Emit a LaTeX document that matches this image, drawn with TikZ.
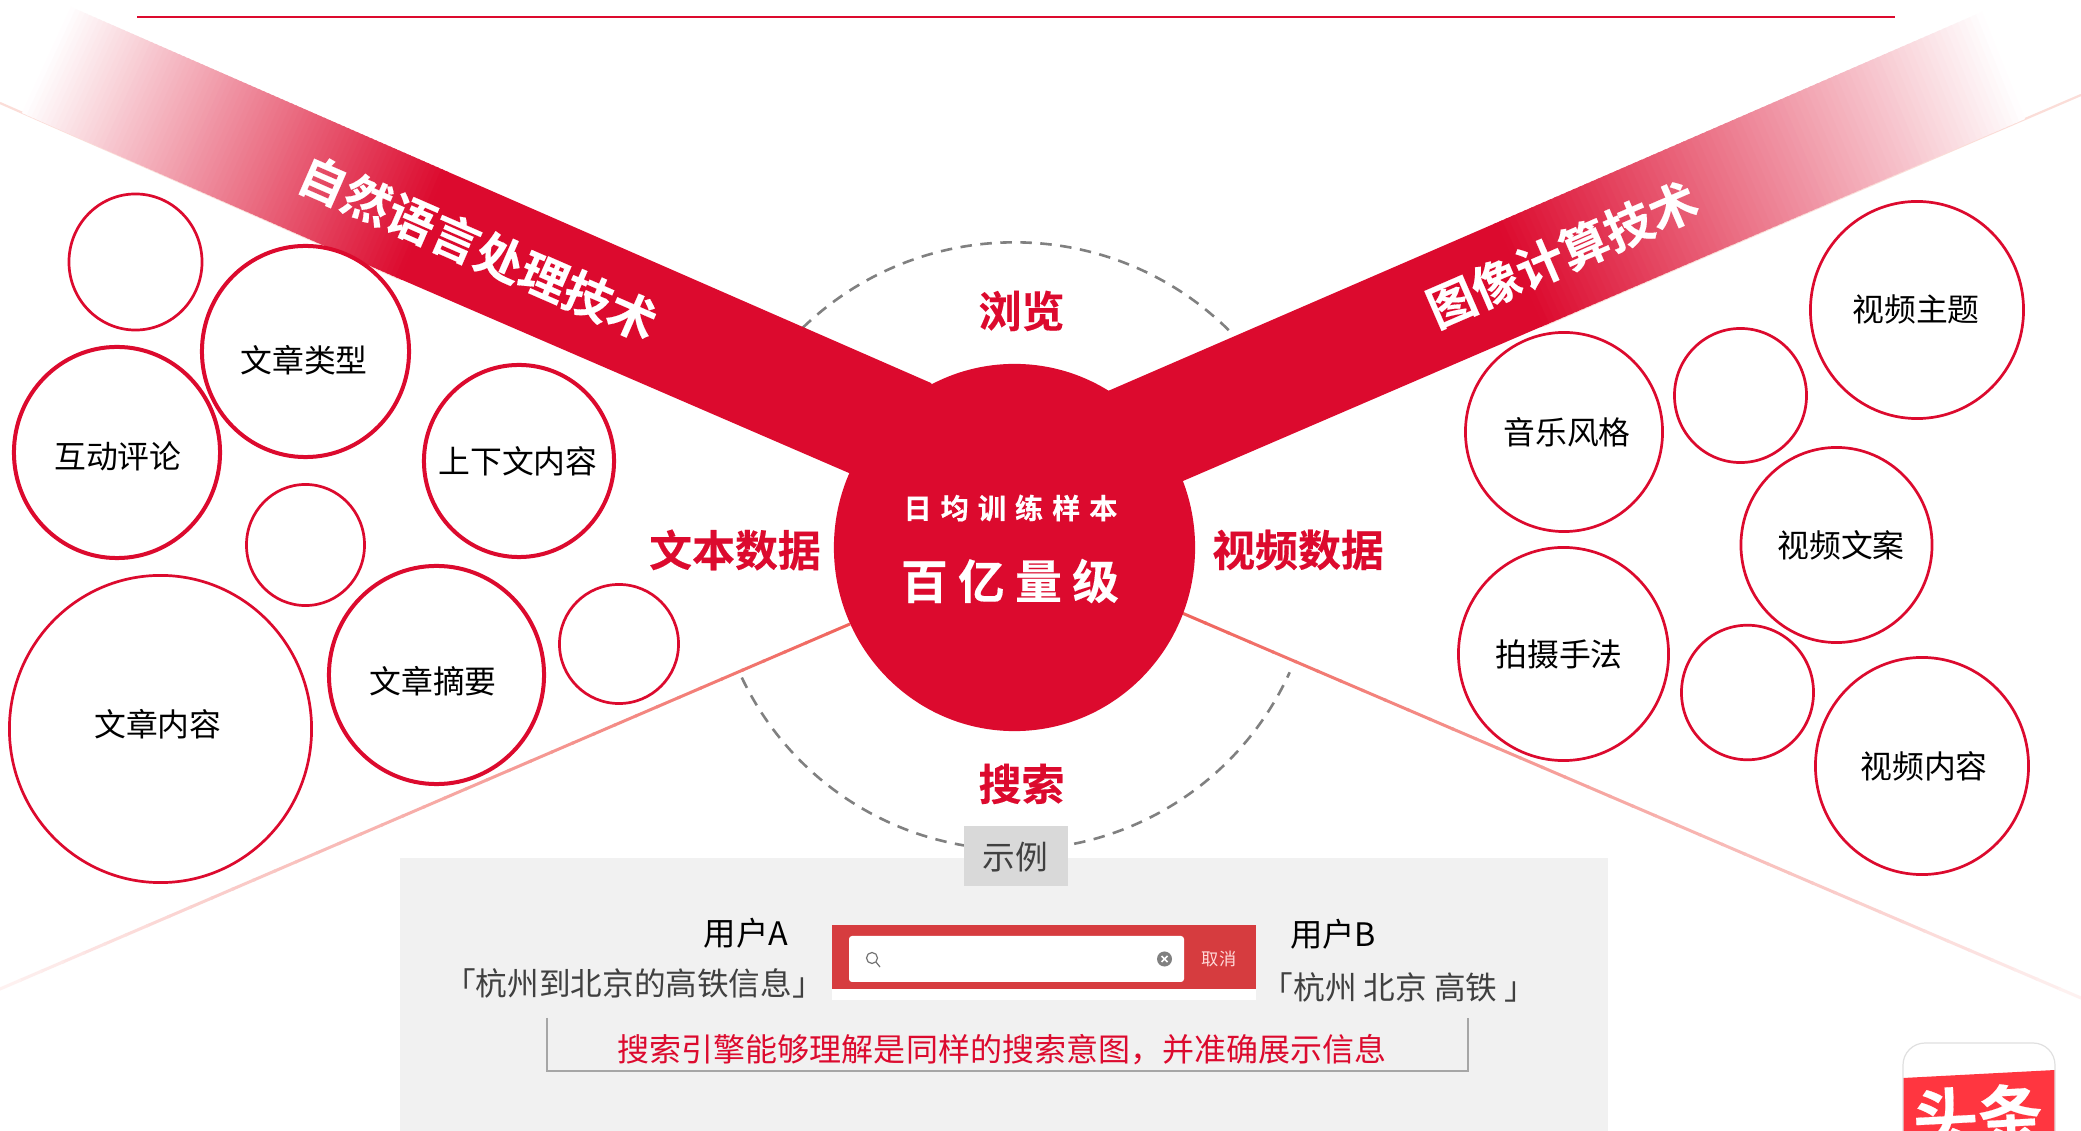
\documentclass[tikz,border=0pt]{standalone}
\usepackage{fontspec}
\setmainfont{Noto Sans CJK SC}
\newfontfamily\cjkbold[FakeBold=0.3]{Noto Sans CJK SC Bold}
\usetikzlibrary{shapes.geometric,calc}
\definecolor{hred}{HTML}{DC0A2E}
\definecolor{coral}{HTML}{F0645C}
\definecolor{faint}{HTML}{FBDDD8}
\definecolor{panel}{HTML}{F1F1F1}
\definecolor{tagbox}{HTML}{D9D9D9}
\definecolor{barred}{HTML}{D63C3F}
\definecolor{ttred}{HTML}{FF3640}
\newcommand{\fsz}[1]{\fontsize{#1}{#1}\selectfont}
\newcommand{\fadeband}[4]{%
  \foreach \i in {0,...,79}{%
    \pgfmathsetmacro\fa{\i/80}\pgfmathsetmacro\fb{(\i+1.5)/80}\pgfmathsetmacro\fm{(\i+0.5)*100/80}%
    \fill[hred!\fm!white] ($(#1)!\fa!(#3)$) -- ($(#1)!\fb!(#3)$) -- ($(#2)!\fb!(#4)$) -- ($(#2)!\fa!(#4)$) -- cycle;
  }}
\newcommand{\fadeline}[2]{%
  \foreach \i in {0,...,39}{%
    \pgfmathsetmacro\fa{\i/40}\pgfmathsetmacro\fb{(\i+1.1)/40}\pgfmathsetmacro\fm{100-(\i+0.5)*92/40}%
    \draw[coral!\fm!white,line width=0.03cm] ($(#1)!\fa!(#2)$) -- ($(#1)!\fb!(#2)$);
  }}
\tikzset{
  x=0.01cm,y=-0.01cm,
  thick bubble/.style={ellipse,draw=hred,fill=white,line width=0.04cm,inner sep=0pt},
  thin bubble/.style={ellipse,draw=hred,fill=white,line width=0.027cm,inner sep=0pt},
  bubbletext/.style={inner sep=0pt,font=\fsz{9.05},text=black},
  headtext/.style={inner sep=0pt,font=\cjkbold\fsz{12.2},text=hred},
  bandtext/.style={inner sep=0pt,font=\cjkbold\fsz{13.7},text=white},
  usertext/.style={inner sep=0pt,font=\fsz{9.2},text=black},
  querytext/.style={inner sep=0pt,font=\fsz{9.0},text=black!75},
  dashring/.style={draw=black!50,line width=0.026cm,dash pattern=on 0.115cm off 0.085cm},
}
\begin{document}
\begin{tikzpicture}
\useasboundingbox (0,0) rectangle (2081,1131);
\fill[white] (0,0) rectangle (2081,1131);
% top rule
\coordinate (ruleL) at (137,17); \coordinate (ruleR) at (1895,17);
\draw[hred,line width=0.028cm] (ruleL) -- (ruleR);
% hub centre
\coordinate (hubc) at (1014.5,547.5);
% dashed ring
\draw[dashring] (hubc) ++(134:3.05cm) arc[start angle=134,end angle=44.5,radius=3.05cm];
\draw[dashring] (hubc) ++(205.5:3.02cm) arc[start angle=205.5,end angle=335.6,radius=3.02cm];
% faint lines beneath ribbons
\coordinate (lfA) at (0,103); \coordinate (lfB) at (400,279);
\coordinate (rfA) at (2081,95); \coordinate (rfB) at (1543,326);
\draw[faint,line width=0.022cm] (lfA) -- (lfB);
\draw[faint,line width=0.022cm] (rfA) -- (rfB);
% fading lines under the hub
\coordinate (llA) at (850,624); \coordinate (llB) at (0,989);
\coordinate (rlA) at (1182,613); \coordinate (rlB) at (2081,998);
\fadeline{llA}{llB}
\fadeline{rlA}{rlB}
% left ribbon
\coordinate (lT0) at (71,7); \coordinate (lB0) at (22,113);
\coordinate (lT1) at (446,171); \coordinate (lB1) at (400,279);
\coordinate (lT2) at (931,383); \coordinate (lB2) at (849,473);
\fadeband{lT0}{lB0}{lT1}{lB1}
\fill[hred] (lT1) -- (lT2) -- (hubc) -- (lB2) -- (lB1) -- cycle;
% right ribbon
\coordinate (rT0) at (1982,12); \coordinate (rB0) at (2025,119);
\coordinate (rT1) at (1496,223); \coordinate (rB1) at (1543,326);
\coordinate (rT2) at (1108,391); \coordinate (rB2) at (1183,481);
\fadeband{rT0}{rB0}{rT1}{rB1}
\fill[hred] (rT1) -- (rT2) -- (hubc) -- (rB2) -- (rB1) -- cycle;
% hub
\node[ellipse,fill=hred,minimum width=3.61cm,minimum height=3.67cm,inner sep=0pt] (hub) at (hubc) {};
\node[inner sep=0pt,text=white,font=\cjkbold\fsz{8}\addfontfeature{LetterSpace=32}] (hubsub) at (1010.5,508) {日均训练样本};
\node[inner sep=0pt,text=white,font=\cjkbold\fsz{13.3}\addfontfeature{LetterSpace=22}] (hubmain) at (1010,581) {百亿量级};
% ribbon text
\node[bandtext,rotate=-23.6] (bandL) at (478,248) {自然语言处理技术};
\node[bandtext,rotate=23.4] (bandR) at (1562,254) {图像计算技术};
% headings
\node[headtext] (hdTop) at (1021.5,311) {浏览};
\node[headtext] (hdBot) at (1021.5,784) {搜索};
\node[headtext] (hdL) at (735,550) {文本数据};
\node[headtext] (hdR) at (1298,550) {视频数据};
% left bubbles
\node[thin bubble,minimum width=1.33cm,minimum height=1.36cm] (c1) at (135.5,262) {};
\node[thick bubble,minimum width=2.07cm,minimum height=2.11cm] (c2) at (305.5,351.5) {};
\node[thick bubble,minimum width=2.06cm,minimum height=2.11cm] (c3) at (117,452.5) {};
\node[thick bubble,minimum width=1.90cm,minimum height=1.92cm] (c4) at (519,461) {};
\node[thin bubble,minimum width=1.18cm,minimum height=1.21cm] (c5) at (305.5,545) {};
\node[thick bubble,minimum width=2.15cm,minimum height=2.18cm] (c6) at (436.5,675) {};
\node[thin bubble,minimum width=1.19cm,minimum height=1.19cm] (c7) at (619,644) {};
\node[thin bubble,minimum width=3.02cm,minimum height=3.07cm] (c8) at (160.5,729) {};
\node[bubbletext] (t2) at (304,360) {文章类型};
\node[bubbletext] (t3) at (118,456) {互动评论};
\node[bubbletext] (t4) at (518,461) {上下文内容};
\node[bubbletext] (t6) at (433,681) {文章摘要};
\node[bubbletext] (t8) at (158,724) {文章内容};
% right bubbles
\node[thin bubble,minimum width=2.13cm,minimum height=2.17cm] (r1) at (1917,310) {};
\node[thin bubble,minimum width=1.32cm,minimum height=1.34cm] (r2) at (1740.5,395.5) {};
\node[thin bubble,minimum width=1.97cm,minimum height=1.99cm] (r3) at (1564,432) {};
\node[thin bubble,minimum width=1.91cm,minimum height=1.95cm] (r4) at (1836.5,545) {};
\node[thin bubble,minimum width=2.10cm,minimum height=2.13cm] (r5) at (1563.5,654) {};
\node[thin bubble,minimum width=1.32cm,minimum height=1.345cm] (r6) at (1747.5,692.5) {};
\node[thin bubble,minimum width=2.13cm,minimum height=2.17cm] (r7) at (1922,766) {};
\node[bubbletext] (s1) at (1916,309) {视频主题};
\node[bubbletext] (s3) at (1567,432) {音乐风格};
\node[bubbletext] (s4) at (1841,545) {视频文案};
\node[bubbletext] (s5) at (1559,654) {拍摄手法};
\node[bubbletext] (s7) at (1924,766) {视频内容};
% example panel
\fill[panel] (400,858) rectangle (1608,1131);
\node[fill=tagbox,minimum width=1.04cm,minimum height=0.59cm,inner sep=0pt] (tag) at (1016,856) {};
\node[inner sep=0pt,font=\fsz{9.3},text=black!75] (tagt) at (1015,857) {示例};
\node[usertext] (ua) at (746,933) {用户A};
\node[querytext] (qa) at (634,983) {「杭州到北京的高铁信息」};
\node[usertext] (ub) at (1333,934) {用户B};
\node[querytext] (qb) at (1399,987) {「杭州 北京 高铁 」};
% search bar
\fill[white] (832,989) rectangle (1256,1000);
\fill[barred] (832,925) rectangle (1256,989);
\fill[white,rounded corners=0.03cm] (849,936) rectangle (1184,982);
\coordinate (lens) at (872,958);
\draw[black!55,line width=0.012cm] (lens) circle[radius=0.055cm];
\draw[black!55,line width=0.012cm] (876,962) -- (880,967);
\fill[black!50] (1164.5,959) circle[radius=0.075cm];
\draw[white,line width=0.015cm] (1161.5,956) -- (1167.5,962) (1167.5,956) -- (1161.5,962);
\node[inner sep=0pt,font=\fsz{4.9},text=white!85!red] (cancel) at (1219,959) {取消};
% note bracket
\coordinate (brA) at (547,1018); \coordinate (brB) at (547,1071);
\coordinate (brC) at (1468,1071); \coordinate (brD) at (1468,1018);
\draw[black!35,line width=0.016cm] (brA) -- (brB) -- (brC) -- (brD);
\node[inner sep=0pt,font=\fsz{9.1},text=hred] (note) at (1002,1050) {搜索引擎能够理解是同样的搜索意图，并准确展示信息};
% app icon
\begin{scope}
\clip[rounded corners=0.22cm] (1903,1043) rectangle (2055,1180);
\fill[white] (1903,1043) rectangle (2055,1180);
\fill[ttred] (1903,1078) -- (2055,1070) -- (2055,1180) -- (1903,1180) -- cycle;
\node[inner sep=0pt,font=\cjkbold\fsz{18.5},text=white,rotate=3] (app) at (1978,1116) {头条};
\end{scope}
\draw[black!12,line width=0.012cm,rounded corners=0.22cm] (1903,1180) rectangle (2055,1043);
\end{tikzpicture}
\end{document}
